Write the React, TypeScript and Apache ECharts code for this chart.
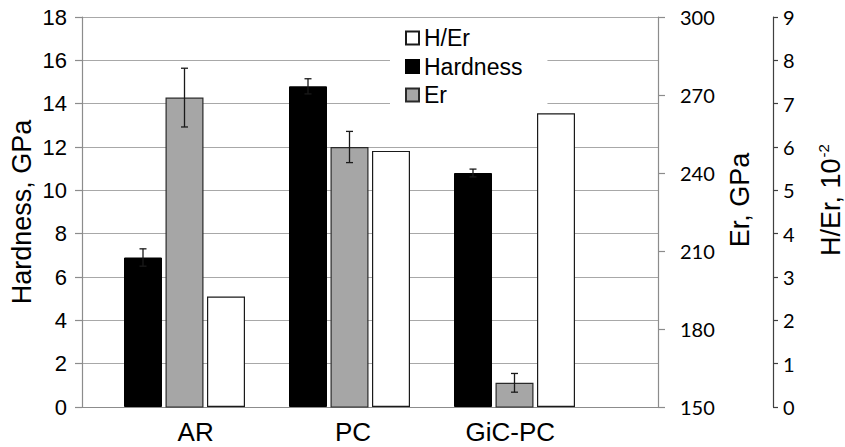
import React, { useEffect, useRef } from "react";
import * as echarts from "echarts";

// Samples and measured properties
const categories = ["AR", "PC", "GiC-PC"];
const hardness = [6.9, 14.8, 10.8]; // GPa
const hardnessErr = [0.4, 0.35, 0.18];
const er = [269, 250, 159.3]; // GPa
const erErr = [11.3, 6, 3.6];
const hEr = [2.55, 5.91, 6.78]; // x 10^-2

const FONT = "Liberation Sans, Arial, sans-serif";
const NUM_FONT = "Lato, Liberation Sans, sans-serif";

const BAR_W = 38;
const BAR_GAP = 3.5;
const PITCH = BAR_W + BAR_GAP;

function errorSeries(name: string, values: number[], errs: number[], yAxisIndex: number, offset: number) {
  return {
    name,
    type: "custom",
    xAxisIndex: 1,
    yAxisIndex,
    z: 5,
    silent: true,
    encode: { x: 0, y: [1, 2] },
    data: values.map((v, i) => [i, v - errs[i], v + errs[i]]),
    renderItem: (_params: any, api: any) => {
      const top = api.coord([api.value(0), api.value(2)]);
      const bot = api.coord([api.value(0), api.value(1)]);
      const x = top[0] + offset;
      const cap = 3.5;
      const style = { stroke: "#1a1a1a", lineWidth: 1.3 };
      return {
        type: "group",
        children: [
          { type: "line", shape: { x1: x, y1: top[1], x2: x, y2: bot[1] }, style },
          { type: "line", shape: { x1: x - cap, y1: top[1], x2: x + cap, y2: top[1] }, style },
          { type: "line", shape: { x1: x - cap, y1: bot[1], x2: x + cap, y2: bot[1] }, style },
        ],
      };
    },
  };
}

export default function App() {
  const ref = useRef<HTMLDivElement>(null);

  useEffect(() => {
    if (!ref.current) return;
    const chart = echarts.init(ref.current, undefined, { renderer: "svg" });

    const gridTop = 17;
    const gridH = 390;

    const option: any = {
      animation: false,
      backgroundColor: "#ffffff",
      textStyle: { fontFamily: FONT },
      grid: [
        { left: 82, top: gridTop, width: 576, height: gridH },
        { left: 102, top: gridTop, width: 495, height: gridH },
        { left: 117, top: gridTop, width: 472, height: gridH },
      ],
      legend: {
        data: ["H/Er", "Hardness", "Er"],
        orient: "vertical",
        left: 390,
        top: 21,
        padding: [5, 25, 3, 15],
        backgroundColor: "#ffffff",
        itemWidth: 13,
        itemHeight: 13,
        itemGap: 4.5,
        icon: "rect",
        textStyle: { fontFamily: FONT, fontSize: 23, lineHeight: 24, color: "#000" },
      },
      xAxis: [
        {
          gridIndex: 0,
          type: "category",
          data: categories,
          axisLine: { show: true, lineStyle: { color: "#8c8c8c", width: 1.2 } },
          axisTick: { show: false },
          axisLabel: { show: false },
        },
        { gridIndex: 1, type: "category", data: categories, show: false },
        {
          gridIndex: 2,
          type: "category",
          data: categories,
          axisLine: { show: false },
          axisTick: { show: false },
          axisLabel: { fontFamily: FONT, fontSize: 26, color: "#000", margin: 12 },
        },
      ],
      yAxis: [
        {
          gridIndex: 0,
          type: "value",
          position: "left",
          min: 0,
          max: 18,
          interval: 2,
          axisLine: { show: true, lineStyle: { color: "#8c8c8c", width: 1.2 } },
          axisTick: { show: true, length: 7, lineStyle: { color: "#8c8c8c", width: 1.2 } },
          axisLabel: { fontFamily: FONT, fontSize: 22, color: "#000", margin: 15 },
          splitLine: { show: true, lineStyle: { color: "#a8a8a8", width: 1.2 } },
        },
        {
          gridIndex: 0,
          type: "value",
          position: "right",
          min: 150,
          max: 300,
          interval: 30,
          axisLine: { show: true, lineStyle: { color: "#8c8c8c", width: 1.2 } },
          axisTick: { show: true, length: 7, lineStyle: { color: "#8c8c8c", width: 1.2 } },
          axisLabel: { fontFamily: NUM_FONT, fontSize: 20, color: "#000", margin: 22 },
          splitLine: { show: false },
        },
        {
          gridIndex: 0,
          type: "value",
          position: "right",
          offset: 115,
          min: 0,
          max: 9,
          interval: 1,
          axisLine: { show: true, lineStyle: { color: "#404040", width: 1.2 } },
          axisTick: { show: true, length: 5, lineStyle: { color: "#404040", width: 1.2 } },
          axisLabel: { fontFamily: NUM_FONT, fontSize: 20, color: "#000", margin: 10 },
          splitLine: { show: false },
        },
        { gridIndex: 1, type: "value", min: 0, max: 18, show: false, splitLine: { show: false } },
        { gridIndex: 1, type: "value", min: 150, max: 300, show: false, splitLine: { show: false } },
        { gridIndex: 1, type: "value", min: 0, max: 9, show: false, splitLine: { show: false } },
        { gridIndex: 2, type: "value", min: 0, max: 1, show: false, splitLine: { show: false } },
      ],
      series: [
        {
          name: "Hardness",
          type: "bar",
          xAxisIndex: 1,
          yAxisIndex: 3,
          barWidth: BAR_W,
          barGap: `${(BAR_GAP / BAR_W) * 100}%`,
          data: hardness,
          itemStyle: { color: "#000000", borderColor: "#000000", borderWidth: 1 },
        },
        {
          name: "Er",
          type: "bar",
          xAxisIndex: 1,
          yAxisIndex: 4,
          barWidth: BAR_W,
          barGap: `${(BAR_GAP / BAR_W) * 100}%`,
          data: er,
          itemStyle: { color: "#a6a6a6", borderColor: "#2a2a2a", borderWidth: 1.2 },
        },
        {
          name: "H/Er",
          type: "bar",
          xAxisIndex: 1,
          yAxisIndex: 5,
          barWidth: BAR_W,
          barGap: `${(BAR_GAP / BAR_W) * 100}%`,
          data: hEr,
          itemStyle: { color: "#ffffff", borderColor: "#1a1a1a", borderWidth: 1.2 },
        },
        errorSeries("Hardness error", hardness, hardnessErr, 3, -PITCH),
        errorSeries("Er error", er, erErr, 4, 0),
      ],
      graphic: [
        {
          type: "text",
          x: 22,
          y: 212,
          rotation: Math.PI / 2,
          style: {
            text: "Hardness, GPa",
            fontFamily: FONT,
            fontSize: 27,
            fill: "#000",
            align: "center",
            verticalAlign: "middle",
          },
        },
        {
          type: "text",
          x: 740,
          y: 200,
          rotation: Math.PI / 2,
          style: {
            text: "Er, GPa",
            fontFamily: FONT,
            fontSize: 27,
            fill: "#000",
            align: "center",
            verticalAlign: "middle",
          },
        },
        {
          type: "text",
          x: 831,
          y: 200,
          rotation: Math.PI / 2,
          style: {
            text: "{m|H/Er, 10}{s|-2}",
            fontFamily: FONT,
            fill: "#000",
            align: "center",
            verticalAlign: "middle",
            rich: {
              m: { fontFamily: FONT, fontSize: 27, lineHeight: 30 },
              s: { fontFamily: FONT, fontSize: 15, verticalAlign: "top", lineHeight: 30, padding: [0, 0, 12, 1] },
            },
          },
        },
      ],
    };

    chart.setOption(option);
    return () => chart.dispose();
  }, []);

  return (
    <div
      ref={ref}
      style={{ position: "fixed", left: 0, top: 0, width: 845, height: 447, background: "#fff" }}
    />
  );
}
